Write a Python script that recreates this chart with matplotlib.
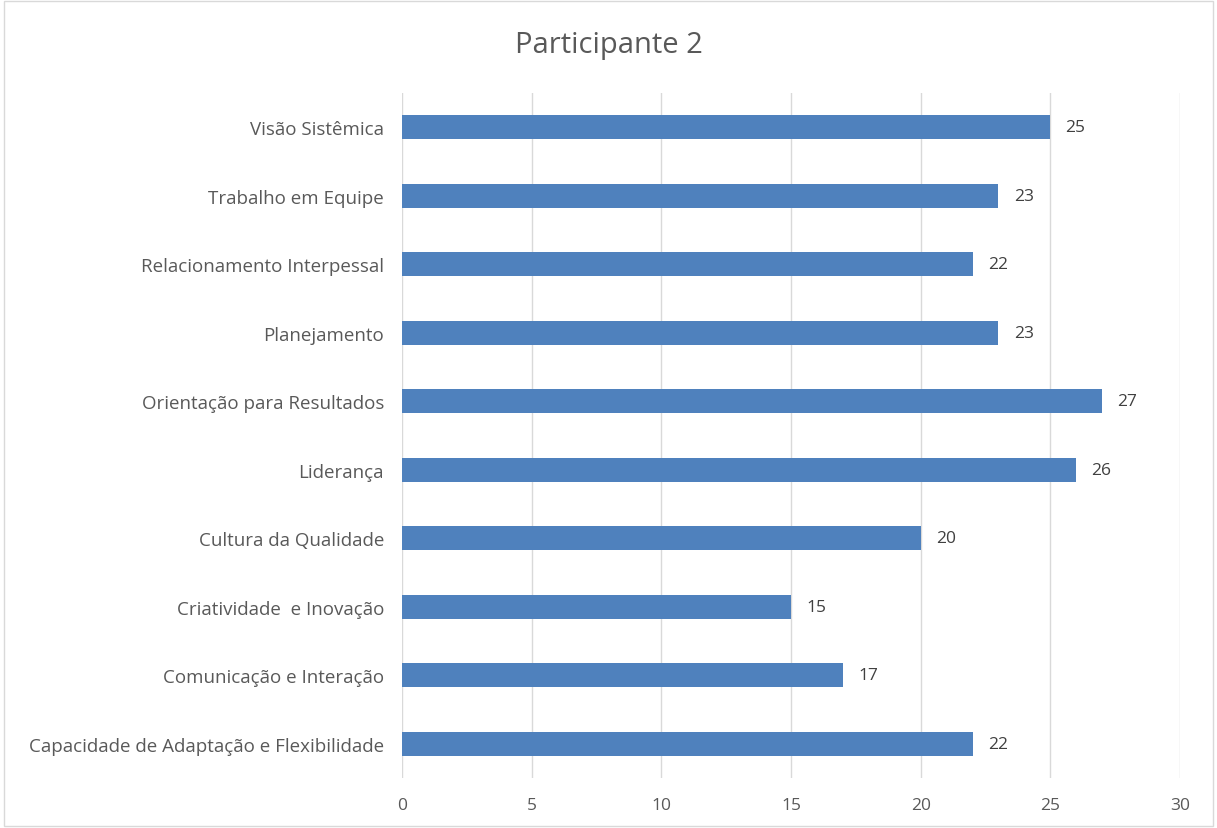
import matplotlib.pyplot as plt
from matplotlib.patches import Rectangle

categories = [
    "Capacidade de Adaptação e Flexibilidade",
    "Comunicação e Interação",
    "Criatividade  e Inovação",
    "Cultura da Qualidade",
    "Liderança",
    "Orientação para Resultados",
    "Planejamento",
    "Relacionamento Interpessal",
    "Trabalho em Equipe",
    "Visão Sistêmica",
]
values = [22, 17, 15, 20, 26, 27, 23, 22, 23, 25]
xticks = [0, 5, 10, 15, 20, 25, 30]

plt.rcParams['font.family'] = ['Open Sans', 'DejaVu Sans']
text_color = "#595959"

fig = plt.figure(figsize=(12.17, 8.29), dpi=100)
ax = fig.add_axes([0.3303, 0.0603, 0.6393, 0.8263])

ys = range(len(categories))
ax.barh(ys, values, height=0.35, color="#4F81BD", zorder=3)
for y, v in zip(ys, values):
    ax.annotate(str(v), (v, y), xytext=(11, 0), textcoords="offset points",
                va="center", ha="left", fontsize=12.5, color="#404040")

ax.set_xlim(0, 30)
ax.set_ylim(-0.5, len(categories) - 0.5)
ax.set_xticks(xticks)
ax.set_yticks(list(ys))
ax.set_yticklabels(categories)
ax.tick_params(axis='both', length=0, colors=text_color, labelsize=13.5)
ax.tick_params(axis='x', labelsize=12.5, pad=14)
ax.tick_params(axis='y', pad=13)
ax.grid(axis='x', color="#D9D9D9", linewidth=1, zorder=0)
for s in ax.spines.values():
    s.set_visible(False)

fig.text(0.5, 0.945, "Participante 2", ha="center", va="center",
         fontsize=21, color=text_color)
fig.patches.append(Rectangle((0.003, 0.003), 0.994, 0.994, transform=fig.transFigure,
                             fill=False, edgecolor="#D9D9D9", linewidth=1))

fig.savefig("out.png", dpi=100)
